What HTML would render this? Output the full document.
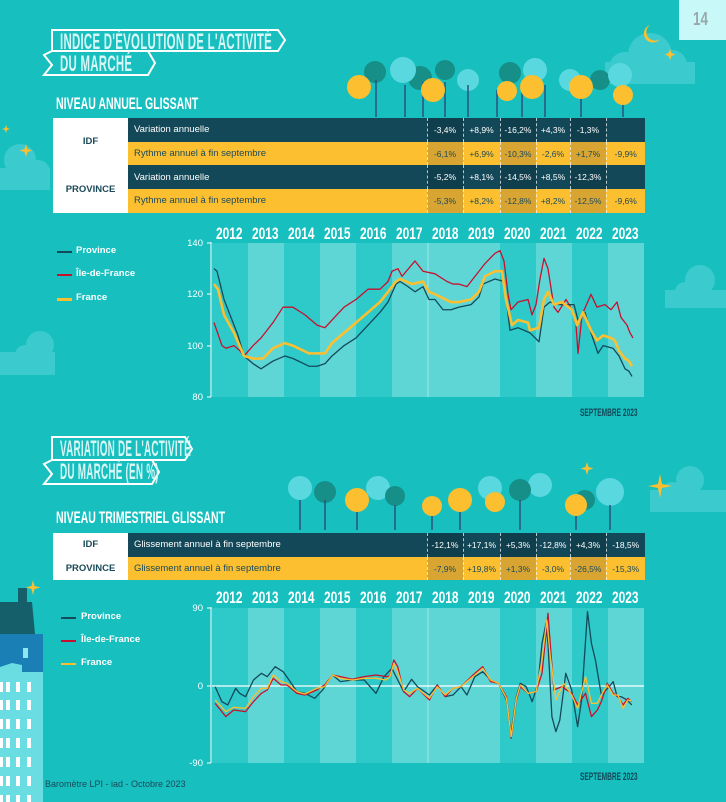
<!DOCTYPE html>
<html><head><meta charset="utf-8"><style>
*{margin:0;padding:0;box-sizing:border-box}
body{width:726px;height:802px;background:#17bfbf;position:relative;overflow:hidden;font-family:"Liberation Sans",sans-serif}
.abs{position:absolute}
.cond{font-weight:bold;transform-origin:0 0;white-space:nowrap}
.title{color:#d7f7f7;font-size:22px;font-weight:bold;transform:scaleX(0.52);transform-origin:0 0;white-space:nowrap;letter-spacing:0.5px}
.title2{color:#d7f7f7;font-size:22px;font-weight:bold;transform:scaleX(0.45);transform-origin:0 0;white-space:nowrap;letter-spacing:0.5px}
.sub{color:#fff;font-size:17px;font-weight:bold;transform:scaleX(0.62);transform-origin:0 0;white-space:nowrap}
table{border-collapse:collapse;position:absolute;font-size:9px}
td{height:23.7px;padding:0}
.lab{background:#fff;color:#1a4a5a;font-weight:bold;text-align:center;font-size:9.5px}
.d{background:#134858;color:#fff}
.y{background:#fbbf30;color:#1a4a5a}
.num{text-align:center;border-left:1px dashed rgba(255,255,255,0.7);font-size:8.5px}
.y.h{background:#d8a533}
.d.h{background:#0f3e4d}
.txt{padding-left:6px;font-size:9.5px}
.yr{position:absolute;color:#fff;font-weight:bold;font-size:17px;transform:scaleX(0.7);transform-origin:0 0}
.leg{position:absolute;color:#fff;font-size:9.5px;font-weight:bold}
.legl{position:absolute;width:15px;height:2px}
</style></head><body>

<div class="abs" style="left:679px;top:0;width:47px;height:40px;background:#c8f8f8"></div>
<div class="abs cond" style="left:693px;top:9px;color:#9aa8aa;font-size:18px;transform:scaleX(0.75)">14</div>

<svg class="abs" style="left:0;top:0" width="726" height="802">
  <g fill="#5ad4dc" opacity="0.55">
    <circle cx="650" cy="55" r="22"/><circle cx="625" cy="68" r="16"/><circle cx="672" cy="65" r="15"/>
    <rect x="605" y="62" width="90" height="22"/>
    <circle cx="20" cy="160" r="16"/><circle cx="38" cy="172" r="12"/><rect x="0" y="168" width="50" height="22"/>
    <circle cx="40" cy="345" r="14"/><circle cx="25" cy="355" r="10"/><rect x="0" y="352" width="55" height="23"/>
    <circle cx="700" cy="280" r="15"/><circle cx="685" cy="292" r="10"/><rect x="665" y="290" width="61" height="18"/>
    <circle cx="690" cy="480" r="14"/><circle cx="672" cy="492" r="10"/><rect x="650" y="490" width="76" height="22"/>
  </g>
  <path d="M650,25 a9,9 0 1,0 10,14 a7,7 0 1,1 -10,-14z" fill="#fbbf30"/>
  <g fill="#fbbf30">
    <path d="M670,49 l1.5,4 4,1.5 -4,1.5 -1.5,4 -1.5,-4 -4,-1.5 4,-1.5z"/>
    <path d="M660,474 l2,10 10,2 -10,2 -2,10 -2,-10 -10,-2 10,-2z"/>
    <path d="M587,462 l1.5,5 5,1.5 -5,1.5 -1.5,5 -1.5,-5 -5,-1.5 5,-1.5z"/>
    <path d="M26,144 l1.5,5 5,1.5 -5,1.5 -1.5,5 -1.5,-5 -5,-1.5 5,-1.5z"/>
    <path d="M6,125 l1,3 3,1 -3,1 -1,3 -1,-3 -3,-1 3,-1z"/>
    <path d="M33,580 l1.5,6 6,1.5 -6,1.5 -1.5,6 -1.5,-6 -6,-1.5 6,-1.5z"/>
  </g>
  <g>
    <g fill="#158f88"><circle cx="375" cy="72" r="11"/><circle cx="420" cy="78" r="12"/><circle cx="445" cy="70" r="10"/><circle cx="510" cy="73" r="11"/><circle cx="600" cy="80" r="10"/></g>
    <g fill="#5ad8e0"><circle cx="403" cy="70" r="13"/><circle cx="468" cy="80" r="11"/><circle cx="535" cy="70" r="12"/><circle cx="570" cy="80" r="11"/><circle cx="620" cy="75" r="12"/></g>
    <g stroke="#2b4f80" stroke-width="1.5"><line x1="376" y1="80" x2="376" y2="117"/><line x1="405" y1="85" x2="405" y2="117"/><line x1="423" y1="82" x2="423" y2="117"/><line x1="445" y1="82" x2="445" y2="117"/><line x1="468" y1="85" x2="468" y2="117"/><line x1="497" y1="90" x2="497" y2="117"/><line x1="522" y1="85" x2="522" y2="117"/><line x1="545" y1="85" x2="545" y2="117"/><line x1="581" y1="90" x2="581" y2="117"/><line x1="623" y1="92" x2="623" y2="117"/></g>
    <g fill="#fbbf30"><circle cx="359" cy="87" r="12"/><circle cx="433" cy="90" r="12"/><circle cx="507" cy="91" r="10"/><circle cx="532" cy="87" r="12"/><circle cx="581" cy="87" r="12"/><circle cx="623" cy="95" r="10"/></g>
  </g>
  <g>
    <g fill="#5ad8e0"><circle cx="300" cy="488" r="12"/><circle cx="378" cy="488" r="12"/><circle cx="490" cy="488" r="12"/><circle cx="610" cy="492" r="14"/><circle cx="540" cy="485" r="12"/></g>
    <g fill="#158f88"><circle cx="325" cy="492" r="11"/><circle cx="395" cy="496" r="10"/><circle cx="520" cy="490" r="11"/><circle cx="585" cy="500" r="10"/></g>
    <g stroke="#2b4f80" stroke-width="1.5"><line x1="300" y1="500" x2="300" y2="530"/><line x1="325" y1="500" x2="325" y2="530"/><line x1="357" y1="505" x2="357" y2="530"/><line x1="395" y1="505" x2="395" y2="530"/><line x1="432" y1="508" x2="432" y2="530"/><line x1="460" y1="505" x2="460" y2="530"/><line x1="520" y1="500" x2="520" y2="530"/><line x1="576" y1="505" x2="576" y2="530"/><line x1="610" y1="505" x2="610" y2="530"/></g>
    <g fill="#fbbf30"><circle cx="357" cy="500" r="12"/><circle cx="432" cy="506" r="10"/><circle cx="460" cy="500" r="12"/><circle cx="495" cy="502" r="10"/><circle cx="576" cy="505" r="11"/></g>
  </g>
  <rect x="18" y="588" width="9" height="14" fill="#155f6a"/>
  <polygon points="0,602 32,602 35,634 0,634" fill="#155f6a"/>
  <rect x="0" y="634" width="43" height="38" fill="#1a7fb5"/>
  <rect x="23" y="648" width="5" height="10" fill="#8de6f0"/>
  <polygon points="0,667 12,663 22,665 22,672 43,672 43,802 0,802" fill="#6adde3"/>
  <g fill="#fff">
    <rect x="0" y="682" width="3" height="10"/><rect x="6" y="682" width="4" height="10"/><rect x="16" y="682" width="4" height="10"/><rect x="27" y="682" width="4" height="10"/>
    <rect x="0" y="700" width="3" height="10"/><rect x="6" y="700" width="4" height="10"/><rect x="16" y="700" width="4" height="10"/><rect x="27" y="700" width="4" height="10"/>
    <rect x="0" y="719" width="3" height="10"/><rect x="6" y="719" width="4" height="10"/><rect x="16" y="719" width="4" height="10"/><rect x="27" y="719" width="4" height="10"/>
    <rect x="0" y="738" width="3" height="10"/><rect x="6" y="738" width="4" height="10"/><rect x="16" y="738" width="4" height="10"/><rect x="27" y="738" width="4" height="10"/>
    <rect x="0" y="757" width="3" height="10"/><rect x="6" y="757" width="4" height="10"/><rect x="16" y="757" width="4" height="10"/><rect x="27" y="757" width="4" height="10"/>
    <rect x="0" y="776" width="3" height="10"/><rect x="6" y="776" width="4" height="10"/><rect x="16" y="776" width="4" height="10"/><rect x="27" y="776" width="4" height="10"/>
    <rect x="0" y="795" width="3" height="7"/><rect x="6" y="795" width="4" height="7"/><rect x="16" y="795" width="4" height="7"/><rect x="27" y="795" width="4" height="7"/>
  </g>
  <polygon points="52,30 278,30 285,40 278,51 52,51" fill="none" stroke="#fff" stroke-width="2"/>
  <polygon points="44,55 52,51 148,51 155,63 148,75 44,75 52,65" fill="none" stroke="#fff" stroke-width="2"/>
  <polygon points="52,437 185,437 192,449 185,460 52,460" fill="none" stroke="#fff" stroke-width="2"/>
  <polygon points="44,464 52,460 152,460 159,472 152,484 44,484 52,474" fill="none" stroke="#fff" stroke-width="2"/>
</svg>

<div class="abs title" style="left:60px;top:29px">INDICE D'ÉVOLUTION DE L'ACTIVITÉ</div>
<div class="abs title" style="left:60px;top:51px">DU MARCHÉ</div>
<div class="abs sub" style="left:56px;top:94px">NIVEAU ANNUEL GLISSANT</div>
<div class="abs title2" style="left:60px;top:436px">VARIATION DE L'ACTIVITÉ</div>
<div class="abs title2" style="left:60px;top:459px">DU MARCHÉ (EN %)</div>
<div class="abs sub" style="left:56px;top:508px">NIVEAU TRIMESTRIEL GLISSANT</div>

<table style="left:53px;top:118px;width:592px">
<colgroup><col style="width:75px"><col style="width:299px"><col style="width:36px"><col style="width:37px"><col style="width:36px"><col style="width:34px"><col style="width:36px"><col style="width:39px"></colgroup>
<tr><td class="lab" rowspan="2">IDF</td><td class="d txt">Variation annuelle</td><td class="d num h">-3,4%</td><td class="d num">+8,9%</td><td class="d num h">-16,2%</td><td class="d num">+4,3%</td><td class="d num h">-1,3%</td><td class="d num"></td></tr>
<tr><td class="y txt">Rythme annuel à fin septembre</td><td class="y num h">-6,1%</td><td class="y num">+6,9%</td><td class="y num h">-10,3%</td><td class="y num">-2,6%</td><td class="y num h">+1,7%</td><td class="y num">-9,9%</td></tr>
<tr><td class="lab" rowspan="2">PROVINCE</td><td class="d txt">Variation annuelle</td><td class="d num h">-5,2%</td><td class="d num">+8,1%</td><td class="d num h">-14,5%</td><td class="d num">+8,5%</td><td class="d num h">-12,3%</td><td class="d num"></td></tr>
<tr><td class="y txt">Rythme annuel à fin septembre</td><td class="y num h">-5,3%</td><td class="y num">+8,2%</td><td class="y num h">-12,8%</td><td class="y num">+8,2%</td><td class="y num h">-12,5%</td><td class="y num">-9,6%</td></tr>
</table>

<table style="left:53px;top:533px;width:592px">
<colgroup><col style="width:75px"><col style="width:299px"><col style="width:36px"><col style="width:37px"><col style="width:36px"><col style="width:34px"><col style="width:36px"><col style="width:39px"></colgroup>
<tr><td class="lab">IDF</td><td class="d txt">Glissement annuel à fin septembre</td><td class="d num h">-12,1%</td><td class="d num">+17,1%</td><td class="d num h">+5,3%</td><td class="d num">-12,8%</td><td class="d num h">+4,3%</td><td class="d num">-18,5%</td></tr>
<tr><td class="lab">PROVINCE</td><td class="y txt">Glissement annuel à fin septembre</td><td class="y num h">-7,9%</td><td class="y num">+19,8%</td><td class="y num h">+1,3%</td><td class="y num">-3,0%</td><td class="y num h">-26,5%</td><td class="y num">-15,3%</td></tr>
</table>

<svg class="abs" style="left:0;top:0" width="726" height="802">
  <g>
    <rect x="212" y="243" width="36" height="154" fill="#2ec9c9"/>
    <rect x="248" y="243" width="36" height="154" fill="#5fd6d6"/>
    <rect x="284" y="243" width="36" height="154" fill="#2ec9c9"/>
    <rect x="320" y="243" width="36" height="154" fill="#5fd6d6"/>
    <rect x="356" y="243" width="36" height="154" fill="#2ec9c9"/>
    <rect x="392" y="243" width="72" height="154" fill="#5fd6d6"/>
    <line x1="428" y1="243" x2="428" y2="397" stroke="#fff" stroke-width="0.7" opacity="0.6"/>
    <rect x="464" y="243" width="36" height="154" fill="#5fd6d6"/>
    <rect x="500" y="243" width="36" height="154" fill="#2ec9c9"/>
    <rect x="536" y="243" width="36" height="154" fill="#5fd6d6"/>
    <rect x="572" y="243" width="36" height="154" fill="#2ec9c9"/>
    <rect x="608" y="243" width="36" height="154" fill="#5fd6d6"/>
  </g>
  <g>
    <rect x="212" y="608" width="36" height="155" fill="#2ec9c9"/>
    <rect x="248" y="608" width="36" height="155" fill="#5fd6d6"/>
    <rect x="284" y="608" width="36" height="155" fill="#2ec9c9"/>
    <rect x="320" y="608" width="36" height="155" fill="#5fd6d6"/>
    <rect x="356" y="608" width="36" height="155" fill="#2ec9c9"/>
    <rect x="392" y="608" width="108" height="155" fill="#5fd6d6"/>
    <line x1="428" y1="608" x2="428" y2="763" stroke="#fff" stroke-width="0.7" opacity="0.6"/>
    <rect x="500" y="608" width="36" height="155" fill="#2ec9c9"/>
    <rect x="536" y="608" width="36" height="155" fill="#5fd6d6"/>
    <rect x="572" y="608" width="36" height="155" fill="#2ec9c9"/>
    <rect x="608" y="608" width="36" height="155" fill="#5fd6d6"/>
    <line x1="212" y1="686" x2="644" y2="686" stroke="#fff" stroke-width="1.2"/>
  </g>
  <g stroke="#fff" stroke-width="1">
    <line x1="211" y1="242" x2="211" y2="397"/>
    <line x1="207" y1="243" x2="211" y2="243"/><line x1="207" y1="294" x2="211" y2="294"/><line x1="207" y1="346" x2="211" y2="346"/><line x1="207" y1="397" x2="211" y2="397"/>
    <line x1="211" y1="607" x2="211" y2="763"/>
    <line x1="207" y1="608" x2="211" y2="608"/><line x1="207" y1="686" x2="211" y2="686"/><line x1="207" y1="763" x2="211" y2="763"/>
  </g>
  <g fill="#fff" font-family="Liberation Sans, sans-serif" font-size="9.5" text-anchor="end">
    <text x="203" y="246">140</text><text x="203" y="297">120</text><text x="203" y="349">100</text><text x="203" y="400">80</text>
    <text x="203" y="611">90</text><text x="203" y="689">0</text><text x="203" y="766">-90</text>
  </g>
  <g transform="translate(0,243) scale(1,-2.567) translate(0,-140)" fill="none" stroke-linejoin="round">
    <polyline vector-effect="non-scaling-stroke" stroke="#c8102e" stroke-width="1.3" points="214,109 222,100 226,99 234,100 240,98 244,96 253,100 261,103 273,109 283,115 293,115 305,112 317,108 325,107 332,110 344,115 356,118 368,122 380,122 388,125 392,129 398,130 402,127 415,133 423,129 435,128 447,125 453,124 459,124 467,123 475,127 485,132 495,136 500,137 504,133 508,120 511,114 518,117 528,118 532,112 536,116 540,126 544,134 548,130 554,115 558,113 566,118 572,114 576,108 578,97 582,112 591,120 597,115 605,116 611,114 617,117 621,111 627,108 630,105 633,103"/>
    <polyline vector-effect="non-scaling-stroke" stroke="#124a5a" stroke-width="1.3" points="214,130 217,129 224,118 228,114 238,104 244,96 253,93 261,91 273,94 285,96 293,95 309,92 317,92 325,93 332,96 344,100 356,103 368,108 380,113 388,117 396,124 400,125 408,123 415,121 423,123 429,118 435,118 443,114 451,114 459,115 471,116 479,119 483,124 495,126 504,125 510,106 518,107 530,105 539,101.5 544,115 550,117 558,116 574,116 578,110 585,113 591,105 598,97 603,100 613,99 619,96 625,91 629,90 632,88"/>
    <polyline vector-effect="non-scaling-stroke" stroke="#fbbf30" stroke-width="2.6" points="214,124 218,122 224,112 234,105 244,96 253,95 263,95 273,99 285,101 293,100 309,97 317,97 325,97 332,101 344,105 356,109 368,113 380,117 388,121 396,125 400,126 412,124 423,125 429,121 435,120 451,117 459,117 471,118 479,121 485,127 495,129 502,129 506,118 512,108 518,110 528,109 530,106 539,107 544,118 548,121 554,116 562,117 572,114 577,108 583,113 591,106 597,102 603,104 611,103 615,102 619,98 625,95 629,94 632,92"/>
  </g>
  <g transform="translate(40,520) scale(0.3953,0.3333)" fill="none" stroke-linejoin="round">
    <polyline vector-effect="non-scaling-stroke" stroke="#124a5a" stroke-width="1.3" points="443,500 460,545 475,555 495,505 505,520 520,530 540,480 560,460 575,470 595,440 615,455 630,480 650,515 670,520 695,535 715,510 740,465 760,485 790,480 820,480 850,520 870,470 890,445 905,480 920,515 940,478 955,500 985,525 1005,495 1025,530 1045,525 1065,500 1080,525 1100,470 1120,455 1140,480 1160,490 1180,540 1192,640 1205,530 1215,490 1230,500 1245,545 1260,490 1270,370 1280,310 1285,370 1295,590 1305,635 1315,600 1330,460 1345,510 1360,620 1370,540 1385,275 1395,370 1405,420 1420,525 1440,500 1450,485 1460,530 1470,530 1485,540 1497,555"/>
    <polyline vector-effect="non-scaling-stroke" stroke="#c8102e" stroke-width="1.3" points="443,550 470,590 490,570 520,575 540,545 560,520 575,510 590,475 610,495 625,495 650,520 670,525 700,510 720,495 740,465 760,470 790,478 820,470 850,465 875,470 885,468 895,420 905,440 920,515 935,530 955,505 985,540 1005,495 1025,530 1045,505 1065,500 1100,460 1120,440 1140,485 1160,490 1180,530 1192,655 1205,540 1215,500 1235,520 1255,515 1270,460 1285,280 1292,390 1300,510 1320,500 1345,520 1360,555 1380,520 1395,590 1410,570 1420,545 1435,490 1450,520 1462,530 1475,555 1487,535 1497,545"/>
    <polyline vector-effect="non-scaling-stroke" stroke="#fbbf30" stroke-width="1.3" points="443,540 470,575 490,562 520,565 540,530 560,505 575,505 590,465 610,485 625,490 650,515 670,522 700,505 720,500 740,465 760,475 790,480 820,475 850,475 875,480 885,470 895,430 905,455 920,510 935,520 955,505 985,535 1005,500 1025,525 1045,505 1065,500 1100,465 1120,445 1140,480 1160,490 1180,535 1192,650 1205,535 1215,495 1235,520 1255,515 1270,420 1282,300 1290,400 1305,540 1325,490 1345,525 1360,565 1380,470 1395,550 1410,550 1420,525 1435,495 1450,525 1462,525 1475,565 1487,540 1497,543"/>
  </g>
</svg>

<div class="yr" style="left:216px;top:224px">2012</div><div class="yr" style="left:252px;top:224px">2013</div><div class="yr" style="left:288px;top:224px">2014</div><div class="yr" style="left:324px;top:224px">2015</div><div class="yr" style="left:360px;top:224px">2016</div><div class="yr" style="left:396px;top:224px">2017</div><div class="yr" style="left:432px;top:224px">2018</div><div class="yr" style="left:468px;top:224px">2019</div><div class="yr" style="left:504px;top:224px">2020</div><div class="yr" style="left:540px;top:224px">2021</div><div class="yr" style="left:576px;top:224px">2022</div><div class="yr" style="left:612px;top:224px">2023</div>
<div class="yr" style="left:216px;top:588px">2012</div><div class="yr" style="left:252px;top:588px">2013</div><div class="yr" style="left:288px;top:588px">2014</div><div class="yr" style="left:324px;top:588px">2015</div><div class="yr" style="left:360px;top:588px">2016</div><div class="yr" style="left:396px;top:588px">2017</div><div class="yr" style="left:432px;top:588px">2018</div><div class="yr" style="left:468px;top:588px">2019</div><div class="yr" style="left:504px;top:588px">2020</div><div class="yr" style="left:540px;top:588px">2021</div><div class="yr" style="left:576px;top:588px">2022</div><div class="yr" style="left:612px;top:588px">2023</div>

<div class="legl" style="left:57px;top:251px;background:#124a5a"></div><div class="leg" style="left:76px;top:245px">Province</div>
<div class="legl" style="left:57px;top:274px;background:#c8102e"></div><div class="leg" style="left:76px;top:268px">Île-de-France</div>
<div class="legl" style="left:57px;top:298px;background:#fbbf30;height:3px"></div><div class="leg" style="left:76px;top:292px">France</div>
<div class="legl" style="left:61px;top:617px;background:#124a5a"></div><div class="leg" style="left:81px;top:611px">Province</div>
<div class="legl" style="left:61px;top:640px;background:#c8102e"></div><div class="leg" style="left:81px;top:634px">Île-de-France</div>
<div class="legl" style="left:61px;top:663px;background:#fbbf30"></div><div class="leg" style="left:81px;top:657px">France</div>

<div class="abs cond" style="left:580px;top:407px;color:#124a5a;font-size:11px;transform:scaleX(0.6)">SEPTEMBRE 2023</div>
<div class="abs cond" style="left:580px;top:771px;color:#124a5a;font-size:11px;transform:scaleX(0.6)">SEPTEMBRE 2023</div>
<div class="abs" style="left:45px;top:779px;color:#1a4a5a;font-size:9px">Baromètre LPI - iad - Octobre 2023</div>
</body></html>
